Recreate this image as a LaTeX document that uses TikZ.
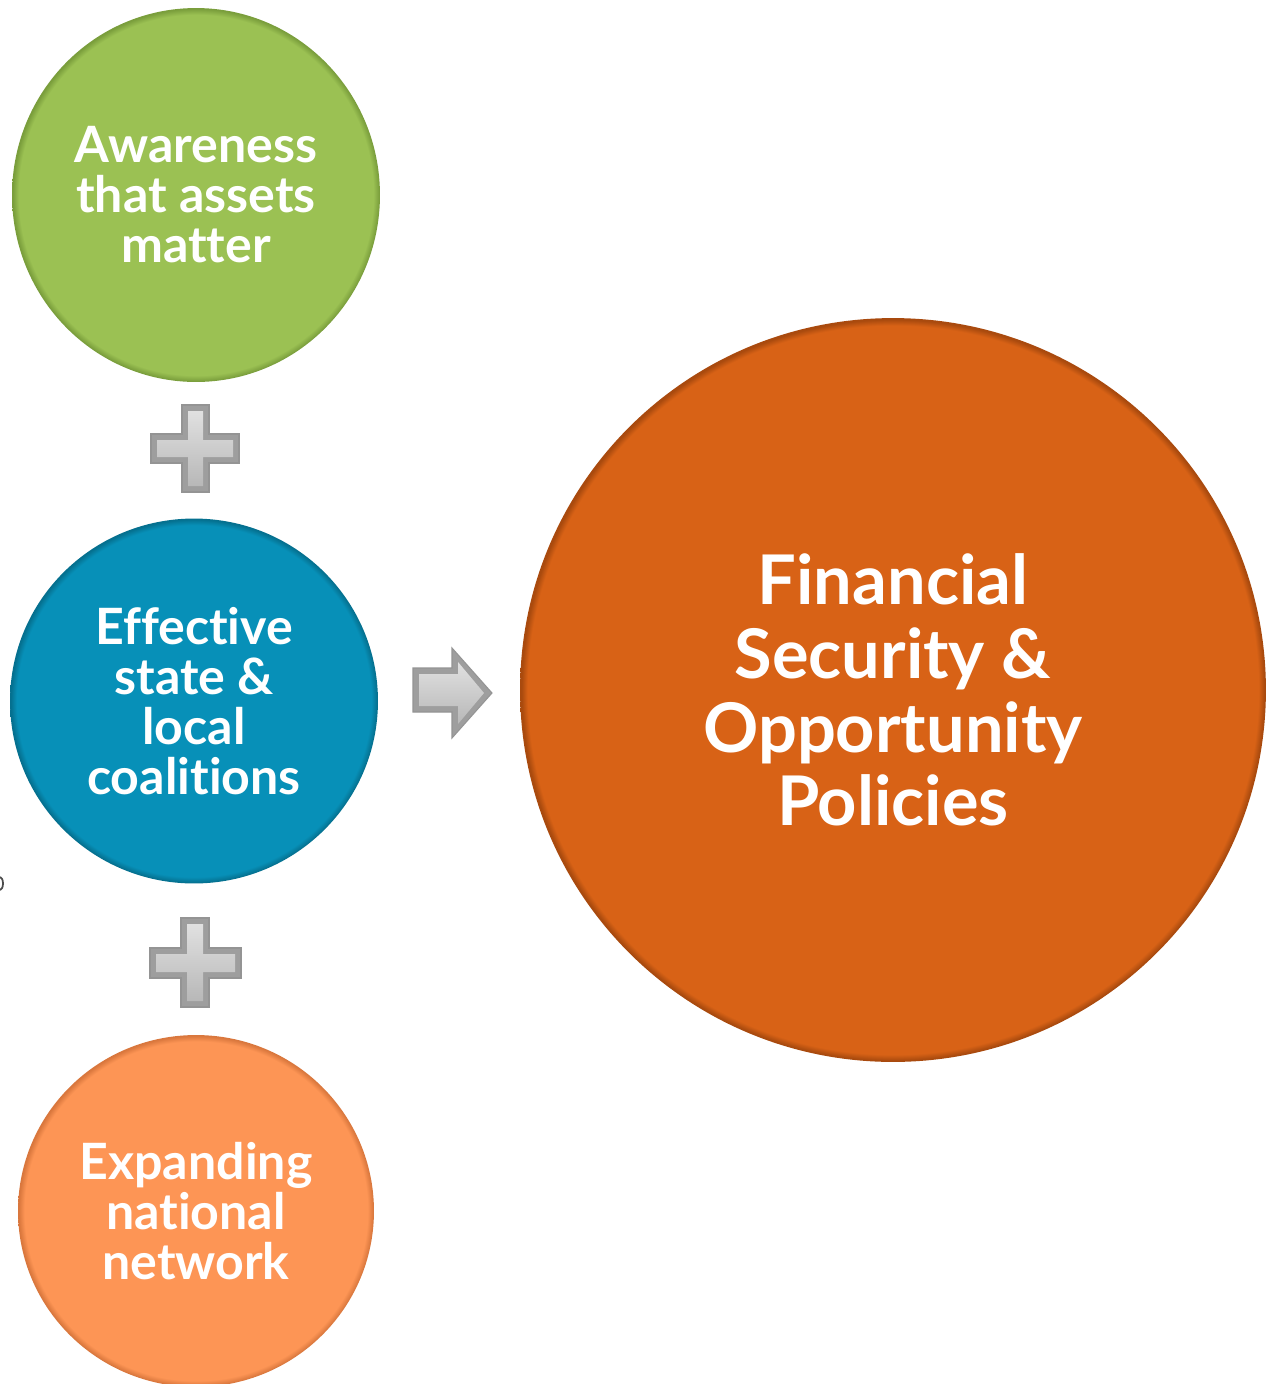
\documentclass[tikz,border=0pt]{standalone}
\usepackage{fontspec}
\setmainfont{Lato}[Ligatures=CommonOff]
\usetikzlibrary{shapes.geometric}
\definecolor{cgreen}{HTML}{9BC153}
\definecolor{cgreenrim}{HTML}{7A9E3C}
\definecolor{cblue}{HTML}{0790B8}
\definecolor{cbluerim}{HTML}{05708F}
\definecolor{clight}{HTML}{FD9555}
\definecolor{clightrim}{HTML}{D9773D}
\definecolor{cdark}{HTML}{D86216}
\definecolor{cdarkrim}{HTML}{A94A0E}
\newcommand\defrim[4]{\pgfdeclareradialshading{#1}{\pgfpoint{0bp}{0bp}}{color(0bp)=(#2); color(#4)=(#2); color(24.9bp)=(#3); color(25bp)=(#3); color(50bp)=(#3)}}
\defrim{rimgreen}{cgreen}{cgreenrim}{24.1bp}
\defrim{rimblue}{cblue}{cbluerim}{24.1bp}
\defrim{rimlight}{clight}{clightrim}{24.1bp}
\defrim{rimdark}{cdark}{cdarkrim}{24.5bp}
\tikzset{
  bubble/.style={ellipse, inner sep=0pt, text=white, align=center, font=\bfseries\fontsize{28.5}{28.5}\selectfont},
  bigbubble/.style={bubble, font=\bfseries\fontsize{39}{42}\selectfont},
  bevelout/.style={fill=black!38, draw=black!42, line width=0.6pt},
  bevelin/.style={top color=black!12, bottom color=black!28}
}
\begin{document}
\begin{tikzpicture}[x=0.02cm, y=-0.02cm]
\useasboundingbox (0,0) rectangle (1274,1384);
% circles
\node[bubble, shading=rimgreen, minimum width=7.36cm, minimum height=7.48cm] (aware) at (196,195) {Awareness\\that assets\\matter};
\node[bubble, shading=rimblue, minimum width=7.36cm, minimum height=7.30cm] (coal) at (194,701) {Effective\\state \&\\local\\coalitions};
\node[bubble, shading=rimlight, minimum width=7.12cm, minimum height=7.04cm] (net) at (196,1211) {Expanding\\national\\network};
\node[bigbubble, shading=rimdark, minimum width=14.92cm, minimum height=14.88cm] (fin) at (893,690) {Financial\\Security \&\\Opportunity\\Policies};
% plus 1
\path[bevelout] (182,405) -- (209,405) -- (209,434) -- (239,434) -- (239,463) -- (209,463) -- (209,492) -- (182,492) -- (182,463) -- (151,463) -- (151,434) -- (182,434) -- cycle;
\path[bevelin] (188,411) -- (203,411) -- (203,440) -- (233,440) -- (233,457) -- (203,457) -- (203,486) -- (188,486) -- (188,457) -- (157,457) -- (157,440) -- (188,440) -- cycle;
% plus 2
\path[bevelout] (181,918) -- (209,918) -- (209,948) -- (241,948) -- (241,978) -- (209,978) -- (209,1007) -- (181,1007) -- (181,978) -- (150,978) -- (150,948) -- (181,948) -- cycle;
\path[bevelin] (187,924) -- (203,924) -- (203,954) -- (235,954) -- (235,972) -- (203,972) -- (203,1001) -- (187,1001) -- (187,972) -- (156,972) -- (156,954) -- (187,954) -- cycle;
% arrow
\path[bevelout] (413,668) -- (452,668) -- (452,648) -- (492,693) -- (452,738) -- (452,712) -- (413,712) -- cycle;
\path[bevelin] (419,674) -- (458,674) -- (458,662) -- (484,693) -- (458,724) -- (458,706) -- (419,706) -- cycle;
% small mark at left edge
\draw[black!70, line width=1pt] (0,877) arc[start angle=-90, end angle=90, x radius=3, y radius=6.5];
\end{tikzpicture}
\end{document}
